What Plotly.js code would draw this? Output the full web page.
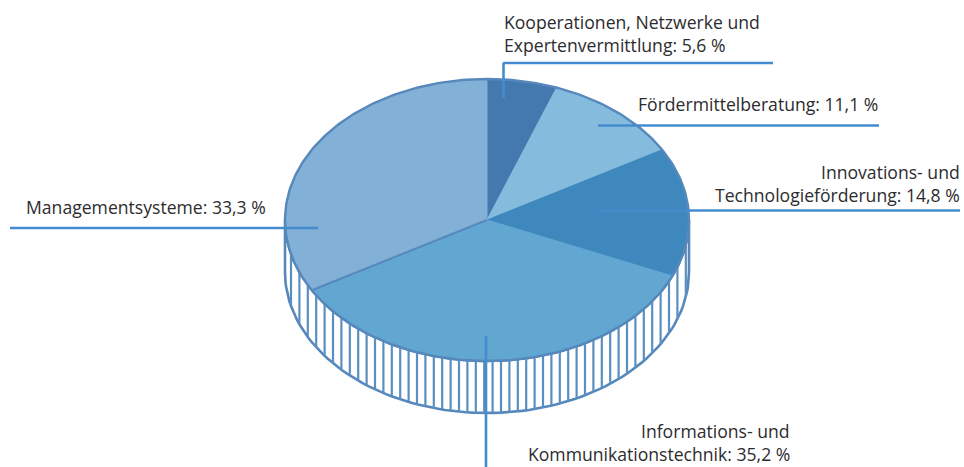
<!DOCTYPE html>
<html><head><meta charset="utf-8">
<script src="https://cdn.plot.ly/plotly-3.0.1.min.js"></script>
<style>html,body{margin:0;padding:0;background:#fff}#c{width:964px;height:467px}</style>
</head><body><div id="c"></div>
<script>
const categories = ["Kooperationen, Netzwerke und Expertenvermittlung","Fördermittelberatung","Innovations- und Technologieförderung","Informations- und Kommunikationstechnik","Managementsysteme"];
const shares = [5.6, 11.1, 14.8, 35.2, 33.3];
const colors = ["#4479b0","#85bbdd","#3f88bd","#62a6d2","#82b0d6"];
const labelLines = [
  ["Kooperationen, Netzwerke und","Expertenvermittlung: 5,6 %"],
  ["Fördermittelberatung: 11,1 %"],
  ["Innovations- und","Technologieförderung: 14,8 %"],
  ["Informations- und","Kommunikationstechnik: 35,2 %"],
  ["Managementsysteme: 33,3 %"]
];
const FONT = "Open Sans", FS = 17.6, TXT = "#2c2c2e", LEAD = "#448ccd", EDGE = "#5688bb";
const cx = 487, cy = 220, rx = 202, ry = 141, depth = 52;
const px = a => cx + rx*Math.sin(a), py = a => cy - ry*Math.cos(a);
const rad = d => d*Math.PI/180;
const traces = [];
// side wall
const sx=[], sy=[];
for(let d=90;d<=270;d+=2){sx.push(px(rad(d)));sy.push(py(rad(d)));}
for(let d=270;d>=90;d-=2){sx.push(px(rad(d)));sy.push(py(rad(d))+depth);}
sx.push(sx[0]);sy.push(sy[0]);
traces.push({x:sx,y:sy,mode:"lines",fill:"toself",fillcolor:"#fff",line:{color:EDGE,width:2.6},hoverinfo:"skip"});
const hx=[],hy=[];
for(let x=cx-rx+6;x<cx+rx;x+=8.4){
  const yt=cy+ry*Math.sqrt(1-Math.pow((x-cx)/rx,2));
  hx.push(x,x,null);hy.push(yt,yt+depth,null);
}
traces.push({x:hx,y:hy,mode:"lines",line:{color:"#5a8fc2",width:2.2},hoverinfo:"skip"});
// top wedges
let start=0;
const total=shares.reduce((s,v)=>s+v,0);
shares.forEach((v,i)=>{
  const end=start+v/total*360, x=[cx],y=[cy];
  for(let d=start;d<end;d+=1){x.push(px(rad(d)));y.push(py(rad(d)));}
  x.push(px(rad(end)),cx);y.push(py(rad(end)),cy);
  traces.push({x,y,mode:"lines",fill:"toself",fillcolor:colors[i],line:{color:colors[i],width:1},name:categories[i],hoverinfo:"name"});
  start=end;
});
// rim and separator
const ox=[],oy=[];
for(let d=0;d<=360;d+=1){ox.push(px(rad(d)));oy.push(py(rad(d)));}
traces.push({x:ox,y:oy,mode:"lines",line:{color:EDGE,width:2.4},hoverinfo:"skip"});
const sep=shares.slice(0,4).reduce((s,v)=>s+v,0)/total*360;
traces.push({x:[px(rad(sep)),cx],y:[py(rad(sep)),cy],mode:"lines",line:{color:EDGE,width:2},hoverinfo:"skip"});

const seg=(x0,y0,x1,y1)=>({type:"line",xref:"x",yref:"y",x0,y0,x1,y1,layer:"above",line:{color:LEAD,width:2.6}});
const shapes=[seg(503,63,773,63),seg(503.5,63,503.5,98),seg(598,125.5,879,125.5),seg(600,210.5,960,210.5),seg(486,336,486,467),seg(10,228,318,228)];
const ann=(t,x,y,anchor)=>({text:t,x,y,xref:"x",yref:"y",xanchor:anchor,yanchor:"middle",showarrow:false,font:{family:FONT,size:FS,color:TXT}});
const annotations=[
  ann(labelLines[0][0],502,22,"left"),ann(labelLines[0][1],502,45,"left"),
  ann(labelLines[1][0],880,104,"right"),
  ann(labelLines[2][0],962,172,"right"),ann(labelLines[2][1],962,195,"right"),
  ann(labelLines[3][0],792,431,"right"),ann(labelLines[3][1],792,454,"right"),
  ann(labelLines[4][0],24,207,"left")
];
Plotly.newPlot("c",traces,{
  width:964,height:467,margin:{l:0,r:0,t:0,b:0},showlegend:false,
  paper_bgcolor:"#fff",plot_bgcolor:"#fff",
  xaxis:{range:[0,964],visible:false,fixedrange:true},
  yaxis:{range:[467,0],visible:false,fixedrange:true},
  shapes,annotations
},{displayModeBar:false});
</script></body></html>
